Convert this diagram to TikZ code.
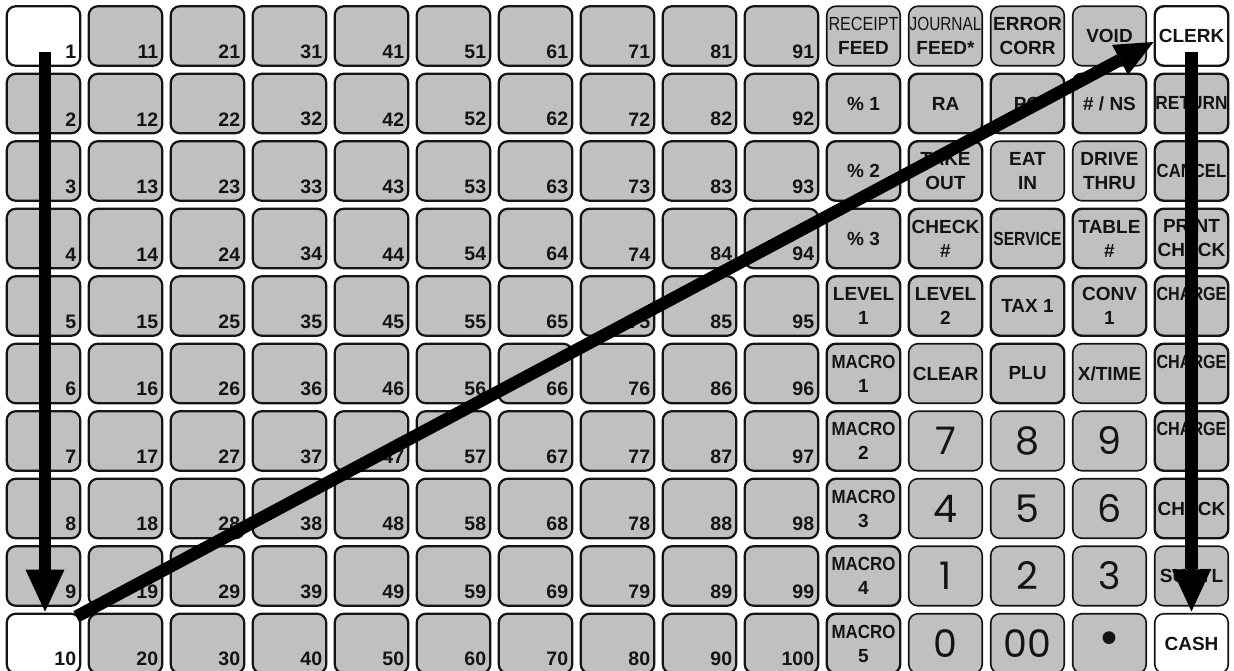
\documentclass[tikz,border=0pt]{standalone}
\usepackage{graphicx}
\usepackage{xcolor}
\usepackage{fontspec}
\setmainfont{Liberation Sans}
\newfontfamily\padfont{Poppins}
\newfontfamily\dotfont{DejaVu Sans}
\usetikzlibrary{arrows.meta}
\definecolor{keygray}{RGB}{192,192,192}
\definecolor{ink}{RGB}{20,20,20}
\newcommand{\narrowtxt}[2]{\scalebox{#1}[1]{#2}}
\tikzset{
  key/.style      = {draw=ink, fill=keygray, rounded corners=9pt, line width=2.2pt,
                     minimum width=73.5pt, minimum height=59.5pt, inner sep=0pt},
  fkey/.style     = {key, line width=2.4pt, align=center, text=ink,
                     font=\fontsize{19}{24}\selectfont\bfseries},
  padkey/.style   = {key, line width=1.6pt, text=ink, font=\fontsize{38}{40}\padfont},
  lightkey/.style = {line width=1.6pt},
  blank/.style    = {fill=white},
  k1/.style       = {blank},
  k10/.style      = {blank},
  numlab/.style   = {anchor=south east, inner sep=0pt, text=ink,
                     font=\fontsize{19.5}{20}\selectfont\bfseries},
  bigarrow/.style = {-{Triangle[width=39pt,length=42pt,line width=0pt]}, line width=12.5pt},
  diaghead/.style = {-{Triangle[width=34pt,length=38pt,line width=0pt]}},
}
\begin{document}
\begin{tikzpicture}[x=82pt, y=-67.5pt]
\useasboundingbox (-43.5pt,36pt) rectangle (1190.5pt,-634pt);
% numbered keys 1..100
\foreach \c in {0,...,9}
  \foreach \r in {0,...,9} {
    \pgfmathtruncatemacro{\n}{10*\c+\r+1}
    \node[key, k\n/.try] (k\n) at (\c,\r) {};
    \node[numlab] at ([xshift=-5pt,yshift=8pt]k\n.south east) {\n};
  }
% function keys
\node[fkey, lightkey] (receipt) at (10,0) {{\mdseries\narrowtxt{0.85}{RECEIPT}}\\FEED};
\node[fkey, lightkey] (journal) at (11,0) {{\mdseries\narrowtxt{0.81}{JOURNAL}}\\FEED*};
\node[fkey, lightkey] (errcorr) at (12,0) {ERROR\\CORR};
\node[fkey, lightkey] (void) at (13,0) {VOID};
\node[fkey, blank] (clerk) at (14,0) {CLERK};
\node[fkey] (pct1) at (10,1) {\% 1};
\node[fkey] (ra) at (11,1) {RA};
\node[fkey] (po) at (12,1) {PO};
\node[fkey] (nosale) at (13,1) {\# / NS};
\node[fkey] (return) at (14,1) {\narrowtxt{0.91}{RETURN}};
\node[fkey] (pct2) at (10,2) {\% 2};
\node[fkey] (takeout) at (11,2) {TAKE\\OUT};
\node[fkey, lightkey] (eatin) at (12,2) {EAT\\IN};
\node[fkey, lightkey] (drivethru) at (13,2) {DRIVE\\THRU};
\node[fkey] (cancel) at (14,2) {\narrowtxt{0.88}{CANCEL}};
\node[fkey] (pct3) at (10,3) {\% 3};
\node[fkey] (checknum) at (11,3) {CHECK\\\#};
\node[fkey] (service) at (12,3) {\narrowtxt{0.82}{SERVICE}};
\node[fkey] (tablenum) at (13,3) {TABLE\\\#};
\node[fkey] (printcheck) at (14,3) {PRINT\\CHECK};
\node[fkey] (level1) at (10,4) {LEVEL\\1};
\node[fkey] (level2) at (11,4) {LEVEL\\2};
\node[fkey] (tax1) at (12,4) {TAX 1};
\node[fkey] (conv1) at (13,4) {CONV\\1};
\node[fkey] (charge1) at (14,4) {\narrowtxt{0.85}{CHARGE}\\\phantom{0}};
\node[fkey] (macro1) at (10,5) {\narrowtxt{0.89}{MACRO}\\1};
\node[fkey, lightkey] (clear) at (11,5) {CLEAR};
\node[fkey] (plu) at (12,5) {PLU};
\node[fkey, lightkey] (xtime) at (13,5) {X/TIME};
\node[fkey] (charge2) at (14,5) {\narrowtxt{0.85}{CHARGE}\\\phantom{0}};
\node[fkey] (macro2) at (10,6) {\narrowtxt{0.89}{MACRO}\\2};
\node[padkey] (d7) at (11,6) {7};
\node[padkey] (d8) at (12,6) {8};
\node[padkey] (d9) at (13,6) {9};
\node[fkey] (charge3) at (14,6) {\narrowtxt{0.85}{CHARGE}\\\phantom{0}};
\node[fkey] (macro3) at (10,7) {\narrowtxt{0.89}{MACRO}\\3};
\node[padkey] (d4) at (11,7) {4};
\node[padkey] (d5) at (12,7) {5};
\node[padkey] (d6) at (13,7) {6};
\node[fkey] (check) at (14,7) {CHECK};
\node[fkey] (macro4) at (10,8) {\narrowtxt{0.89}{MACRO}\\4};
\node[padkey] (d1) at (11,8) {1};
\node[padkey] (d2) at (12,8) {2};
\node[padkey] (d3) at (13,8) {3};
\node[fkey, lightkey] (subtl) at (14,8) {SUBTL};
\node[fkey] (macro5) at (10,9) {\narrowtxt{0.89}{MACRO}\\5};
\node[padkey] (d0) at (11,9) {0};
\node[padkey] (d00) at (12,9) {00};
\node[padkey, font=\fontsize{44}{44}\dotfont] (dpoint) at (13,9) {•};
\node[fkey, lightkey, blank] (cash) at (14,9) {CASH};
% key sequence arrows
\draw[bigarrow] ([xshift=1.5pt,yshift=-16pt]k1.center) -- ([xshift=1.5pt,yshift=1pt]k10.north);
\draw[bigarrow, diaghead] ([xshift=-5pt,yshift=-4pt]k10.north east) -- ([yshift=-6pt]clerk.west);
\draw[bigarrow] ([yshift=-16pt]clerk.center) -- ([yshift=1.5pt]cash.north);
\end{tikzpicture}
\end{document}
